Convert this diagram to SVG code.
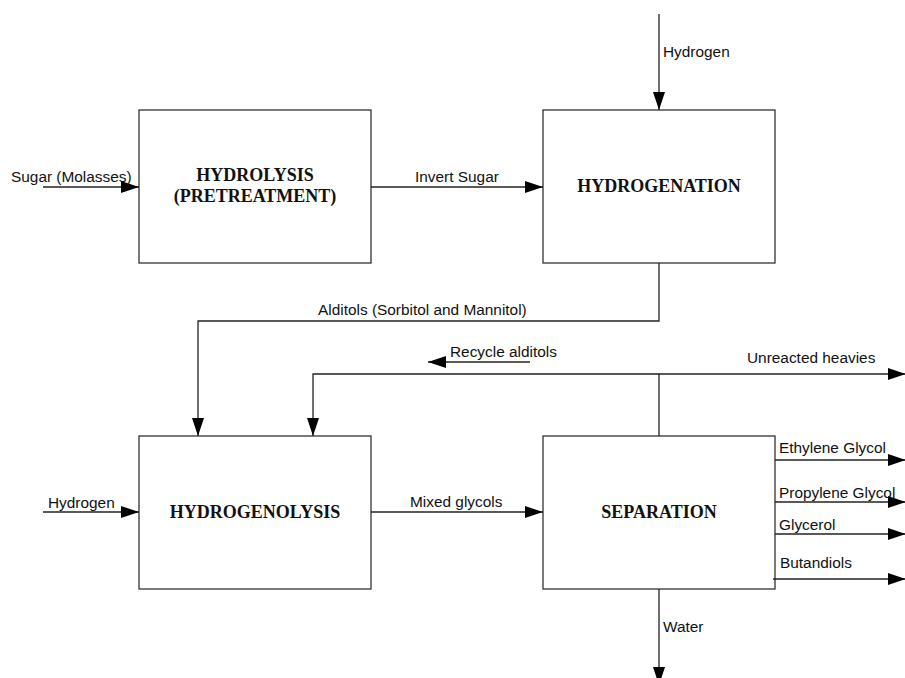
<svg xmlns="http://www.w3.org/2000/svg" width="905" height="678" viewBox="0 0 905 678">
<style>
.box{fill:#fff;stroke:#333;stroke-width:1.3}
.ln{fill:none;stroke:#222;stroke-width:1.3}
.lbl{font-family:"Liberation Sans",Arial,sans-serif;font-size:15.4px;fill:#111}
.ttl{font-family:"Liberation Serif","Times New Roman",serif;font-size:18px;font-weight:bold;fill:#111;text-anchor:middle}
</style>
<defs>
<marker id="ah" markerUnits="userSpaceOnUse" markerWidth="18" markerHeight="12" refX="18" refY="6" orient="auto">
<path d="M0,0 L18,6 L0,12 z" fill="#000"/>
</marker>
</defs>
<rect width="905" height="678" fill="#fff"/>
<g id="hydrolysis">
<rect class="box" x="139" y="110" width="232" height="153"/>
<text class="ttl" x="255" y="181">HYDROLYSIS</text>
<text class="ttl" x="255" y="202">(PRETREATMENT)</text>
</g>
<g id="hydrogenation">
<rect class="box" x="543" y="110" width="232" height="153"/>
<text class="ttl" x="659" y="192">HYDROGENATION</text>
</g>
<g id="hydrogenolysis">
<rect class="box" x="139" y="436" width="232" height="153"/>
<text class="ttl" x="255" y="518">HYDROGENOLYSIS</text>
</g>
<g id="separation">
<rect class="box" x="543" y="436" width="232" height="153"/>
<text class="ttl" x="659" y="518">SEPARATION</text>
</g>
<g id="connectors">
<path class="ln" d="M43,187 H139" marker-end="url(#ah)"/>
<path class="ln" d="M371,187 H543" marker-end="url(#ah)"/>
<path class="ln" d="M659,14 V110" marker-end="url(#ah)"/>
<path class="ln" d="M659,263 V321 H198 V436" marker-end="url(#ah)"/>
<path class="ln" d="M659,436 V374 H313 V436" marker-end="url(#ah)"/>
<path class="ln" d="M659,374 H906" marker-end="url(#ah)"/>
<path class="ln" d="M530,362 H428" marker-end="url(#ah)"/>
<path class="ln" d="M43,512 H139" marker-end="url(#ah)"/>
<path class="ln" d="M371,512 H543" marker-end="url(#ah)"/>
<path class="ln" d="M775,460 H906" marker-end="url(#ah)"/>
<path class="ln" d="M775,502 H906" marker-end="url(#ah)"/>
<path class="ln" d="M775,534 H906" marker-end="url(#ah)"/>
<path class="ln" d="M773,579 H906" marker-end="url(#ah)"/>
<path class="ln" d="M659,589 V685" marker-end="url(#ah)"/>
</g>
<g id="labels">
<text class="lbl" x="11" y="182">Sugar (Molasses)</text>
<text class="lbl" x="415" y="182">Invert Sugar</text>
<text class="lbl" x="663" y="57">Hydrogen</text>
<text class="lbl" x="318" y="315">Alditols (Sorbitol and Mannitol)</text>
<text class="lbl" x="450" y="357">Recycle alditols</text>
<text class="lbl" x="747" y="363">Unreacted heavies</text>
<text class="lbl" x="48" y="508">Hydrogen</text>
<text class="lbl" x="410" y="507">Mixed glycols</text>
<text class="lbl" x="779" y="453">Ethylene Glycol</text>
<text class="lbl" x="779" y="498">Propylene Glycol</text>
<text class="lbl" x="779" y="530">Glycerol</text>
<text class="lbl" x="780" y="568">Butandiols</text>
<text class="lbl" x="663" y="632">Water</text>
</g>
</svg>
